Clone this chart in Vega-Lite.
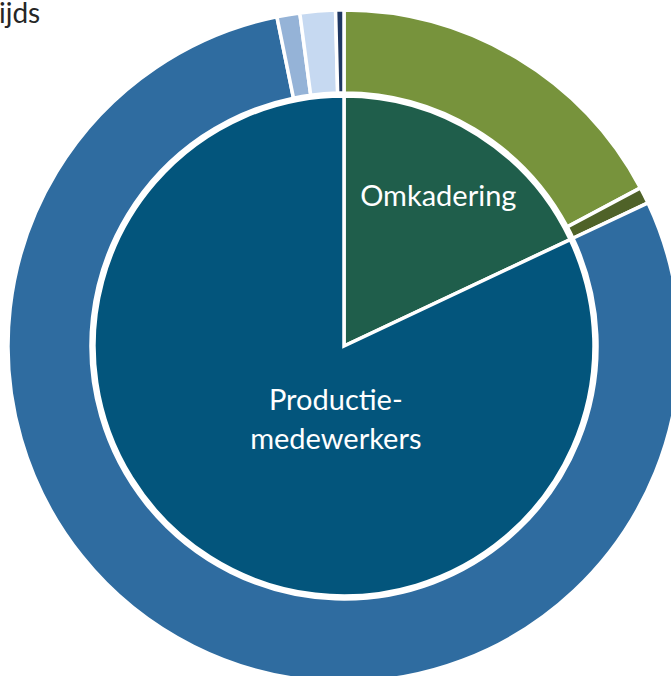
{
  "$schema": "https://vega.github.io/schema/vega-lite/v6.json",
  "width": 688,
  "height": 692,
  "padding": 0,
  "autosize": {"type": "none"},
  "background": "white",
  "title": {"text": "ijds", "anchor": "start", "orient": "top", "frame": "group", "offset": -29, "baseline": "top", "dx": -1, "font": "Lato", "fontSize": 28, "fontWeight": "normal", "color": "#262626"},
  "view": {"stroke": null},
  "datasets": {
    "inner": [
      {"name": "Omkadering", "label": "Omkadering", "value": 18, "idx": 1},
      {"name": "Productiemedewerkers", "label": "Productie-\nmedewerkers", "value": 82, "idx": 2}
    ],
    "outer": [
      {"name": "Omkadering voltijds", "value": 17.2, "idx": 1},
      {"name": "Omkadering deeltijds", "value": 0.8, "idx": 2},
      {"name": "Productie voltijds", "value": 78.8, "idx": 3},
      {"name": "Productie deeltijds", "value": 1.1, "idx": 4},
      {"name": "Productie halftijds", "value": 1.7, "idx": 5},
      {"name": "Productie overig", "value": 0.4, "idx": 6}
    ]
  },
  "layer": [
    {
      "data": {"name": "outer"},
      "mark": {"type": "arc", "radius": 336, "radius2": 253, "stroke": "white", "strokeWidth": 3.5},
      "encoding": {
        "theta": {"field": "value", "type": "quantitative", "stack": true},
        "order": {"field": "idx", "type": "quantitative"},
        "color": {"field": "name", "type": "nominal", "legend": null,
          "scale": {
            "domain": ["Omkadering", "Productiemedewerkers", "Omkadering voltijds", "Omkadering deeltijds", "Productie voltijds", "Productie deeltijds", "Productie halftijds", "Productie overig"],
            "range": ["#1f5e4b", "#03557c", "#77933c", "#4f6228", "#2f6ca0", "#95b3d7", "#c6d9f1", "#1f3864"]
          }}
      }
    },
    {
      "data": {"name": "inner"},
      "mark": {"type": "arc", "radius": 250, "stroke": "white", "strokeWidth": 3.5},
      "encoding": {
        "theta": {"field": "value", "type": "quantitative", "stack": true},
        "order": {"field": "idx", "type": "quantitative"},
        "color": {"field": "name", "type": "nominal", "legend": null}
      }
    },
    {
      "data": {"name": "inner"},
      "mark": {"type": "text", "radius": 176, "font": "Lato", "fontSize": 29, "color": "white", "align": "center", "baseline": "middle"},
      "encoding": {
        "theta": {"field": "value", "type": "quantitative", "stack": true},
        "order": {"field": "idx", "type": "quantitative"},
        "text": {"condition": {"test": "datum.idx == 1", "field": "label"}, "value": ""}
      }
    },
    {
      "data": {"name": "inner"},
      "mark": {"type": "text", "radius": 75, "dx": 32, "dy": -8, "font": "Lato", "fontSize": 29, "color": "white", "align": "center", "baseline": "middle", "lineBreak": "\n", "lineHeight": 39},
      "encoding": {
        "theta": {"field": "value", "type": "quantitative", "stack": true},
        "order": {"field": "idx", "type": "quantitative"},
        "text": {"condition": {"test": "datum.idx == 2", "field": "label"}, "value": ""}
      }
    }
  ]
}
